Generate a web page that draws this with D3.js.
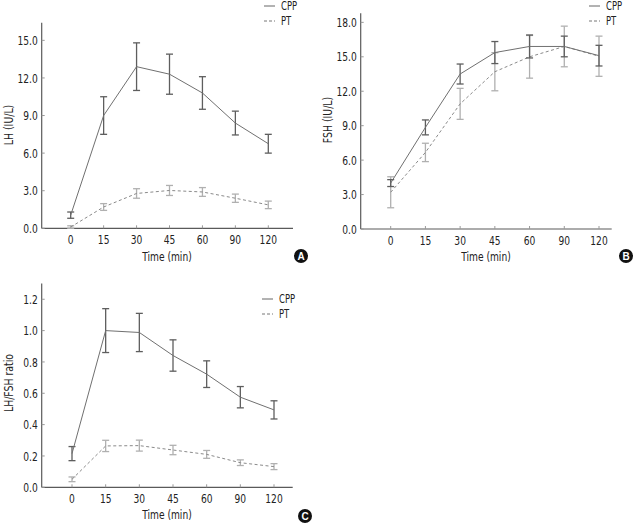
<!DOCTYPE html>
<html><head><meta charset="utf-8">
<script src="https://cdn.jsdelivr.net/npm/d3@7"></script>
<style>
body{margin:0;background:#fff;}
svg{display:block;font-family:"Liberation Sans Narrow","DejaVu Sans Condensed","DejaVu Sans",sans-serif;font-stretch:condensed;}
</style></head>
<body><svg id="c" width="633" height="523"></svg>
<script>
const times = ["0","15","30","45","60","90","120"];
const seriesNames = ["CPP","PT"];

const lhCPP = [1.05, 9.0, 12.9, 12.3, 10.8, 8.4, 6.75];
const lhCPPerr = [0.25, 1.5, 1.9, 1.6, 1.3, 0.95, 0.75];
const lhPT = [0.1, 1.7, 2.78, 3.02, 2.9, 2.4, 1.87];
const lhPTerr = [0.1, 0.27, 0.38, 0.4, 0.35, 0.33, 0.3];
const lhTicks = [0, 3, 6, 9, 12, 15];

const fshCPP = [4.0, 8.85, 13.5, 15.37, 15.9, 15.9, 15.1];
const fshCPPerr = [0.3, 0.65, 0.87, 0.96, 1.0, 0.9, 0.9];
const fshPT = [3.2, 6.67, 10.9, 13.7, 15.0, 15.9, 15.05];
const fshPTerr = [1.35, 0.8, 1.35, 1.66, 1.86, 1.77, 1.75];
const fshTicks = [0, 3, 6, 9, 12, 15, 18];

const ratioCPP = [0.215, 1.0, 0.988, 0.841, 0.722, 0.575, 0.494];
const ratioCPPerr = [0.045, 0.14, 0.122, 0.1, 0.085, 0.068, 0.058];
const ratioPT = [0.051, 0.264, 0.266, 0.238, 0.21, 0.157, 0.132];
const ratioPTerr = [0.015, 0.036, 0.035, 0.03, 0.025, 0.018, 0.019];
const ratioTicks = [0, 0.2, 0.4, 0.6, 0.8, 1.0, 1.2];

const svg = d3.select("#c");
const AXIS = "#5a5a5a";
const TXT = "#222";
const FS = 13;

function ntext(g, x, y, str, opts = {}) {
  const sx = opts.sx || 0.78;
  return g.append("text")
    .attr("transform", `translate(${x},${y})${opts.rot ? " rotate(-90)" : ""} scale(${sx},1)`)
    .attr("text-anchor", opts.anchor || "middle")
    .attr("dy", opts.dy || "0.35em")
    .attr("font-size", opts.fs || FS).attr("fill", TXT).text(str);
}

function panel(o){
  const g = svg.append("g");
  const x = d3.scalePoint().domain(times).range([o.x0, o.x1]);
  const y = d3.scaleLinear().domain([0, o.yTop]).range([o.yBase, o.yTopPx]);
  g.append("line").attr("x1", o.axL).attr("x2", o.axL).attr("y1", y(o.yTop)).attr("y2", y(0))
    .attr("stroke", AXIS).attr("stroke-width", 1.2);
  g.append("line").attr("x1", o.axL).attr("x2", o.axR).attr("y1", y(0)).attr("y2", y(0))
    .attr("stroke", AXIS).attr("stroke-width", 1.2);
  o.ticks.forEach(t => {
    g.append("line").attr("x1", o.axL).attr("x2", o.axL + 3).attr("y1", y(t)).attr("y2", y(t))
      .attr("stroke", "#999").attr("stroke-width", 1);
    ntext(g, o.axL - 4, y(t), d3.format(o.fmt)(t), {anchor: "end"});
  });
  times.forEach(t => {
    g.append("line").attr("x1", x(t)).attr("x2", x(t)).attr("y1", y(0)).attr("y2", y(0) - 3)
      .attr("stroke", "#999").attr("stroke-width", 1);
    ntext(g, x(t), y(0) + 11, t);
  });
  ntext(g, o.xlabX, o.xlabY, "Time (min)");
  ntext(g, o.ylabX, o.ylabY, o.ylab, {rot: true, sx: 0.8});

  const sets = [
    {v: o.cpp, e: o.cppErr, line: "#707070", bar: "#5e5e5e", dash: null},
    {v: o.pt, e: o.ptErr, line: "#8a8a8a", bar: "#b0b0b0", dash: "3,2.5"}
  ];
  const lineGen = d3.line().x((d, i) => x(times[i])).y(d => y(d));
  sets.slice().reverse().forEach(s => {
    s.v.forEach((v, i) => {
      const cx = x(times[i]);
      const lo = y(v - s.e[i]), hi = y(v + s.e[i]);
      g.append("line").attr("x1", cx).attr("x2", cx).attr("y1", lo).attr("y2", hi)
        .attr("stroke", s.bar).attr("stroke-width", 1.3);
      [lo, hi].forEach(yy => g.append("line").attr("x1", cx - 3.5).attr("x2", cx + 3.5)
        .attr("y1", yy).attr("y2", yy).attr("stroke", s.bar).attr("stroke-width", 1.3));
    });
    g.append("path").attr("d", lineGen(s.v)).attr("fill", "none").attr("stroke", s.line)
      .attr("stroke-width", 1).attr("stroke-dasharray", s.dash);
  });
  seriesNames.forEach((n, i) => {
    const ly = o.legY + i * 15;
    g.append("line").attr("x1", o.legX).attr("x2", o.legX + 11).attr("y1", ly).attr("y2", ly)
      .attr("stroke", i ? "#777" : "#666").attr("stroke-width", 1).attr("stroke-dasharray", i ? "3,2" : null);
    ntext(g, o.legX + 17, ly, n, {anchor: "start", fs: 12});
  });
  g.append("circle").attr("cx", o.bx).attr("cy", o.by).attr("r", 7).attr("fill", "#111");
  g.append("text").attr("x", o.bx).attr("y", o.by).attr("dy", "0.36em").attr("text-anchor", "middle")
    .attr("font-family", "Liberation Sans, Arial, sans-serif").attr("font-weight", "bold")
    .attr("font-size", 10).attr("fill", "#fff").text(o.badge);
}

panel({x0: 70.7, x1: 268.3, axL: 41.7, axR: 293, yBase: 228.3, yTop: 16.4, yTopPx: 228.3 - 16.4 * 12.53,
  ticks: lhTicks, fmt: ".1f", cpp: lhCPP, cppErr: lhCPPerr, pt: lhPT, ptErr: lhPTerr,
  ylab: "LH (IU/L)", ylabX: 8, ylabY: 125, xlabX: 167, xlabY: 256, legX: 264, legY: 6, bx: 301, by: 256, badge: "A"});

panel({x0: 390.7, x1: 599, axL: 360.7, axR: 611.7, yBase: 229, yTop: 18.8, yTopPx: 229 - 18.8 * 11.48,
  ticks: fshTicks, fmt: ".1f", cpp: fshCPP, cppErr: fshCPPerr, pt: fshPT, ptErr: fshPTerr,
  ylab: "FSH (IU/L)", ylabX: 327, ylabY: 120, xlabX: 486, xlabY: 256, legX: 589, legY: 6, bx: 626, by: 256, badge: "B"});

panel({x0: 72, x1: 274, axL: 41.7, axR: 292.7, yBase: 487.3, yTop: 1.3, yTopPx: 487.3 - 1.3 * 156.7,
  ticks: ratioTicks, fmt: ".1f", cpp: ratioCPP, cppErr: ratioCPPerr, pt: ratioPT, ptErr: ratioPTerr,
  ylab: "LH/FSH ratio", ylabX: 8, ylabY: 383, xlabX: 167, xlabY: 514, legX: 262, legY: 299, bx: 305, by: 516, badge: "C"});
</script></body></html>
